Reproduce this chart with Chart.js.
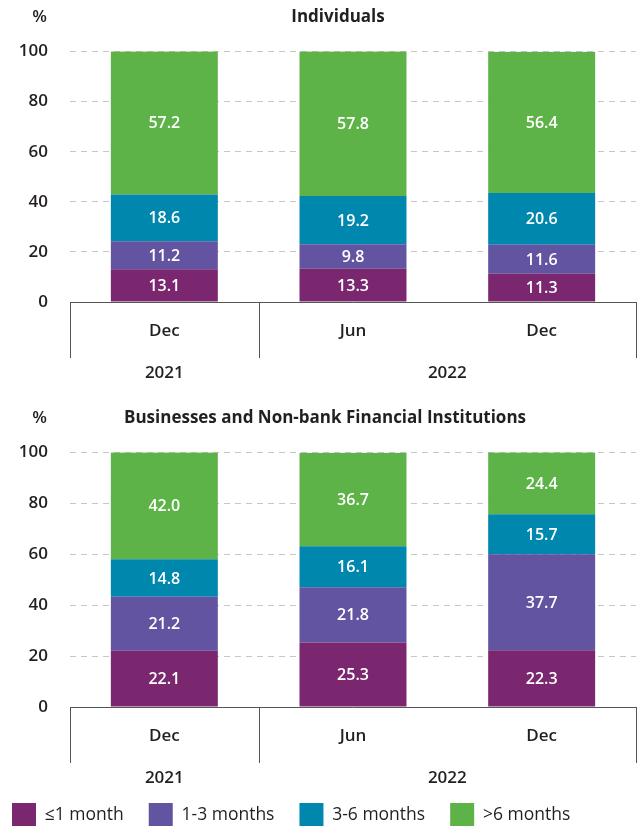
<!DOCTYPE html>
<html>
<head>
<meta charset="utf-8">
<script src="https://cdn.jsdelivr.net/npm/chart.js@4"></script>
<style>
  html, body { margin: 0; padding: 0; background: #fff; overflow: hidden; }
  #wrap { position: relative; width: 644px; height: 826px; overflow: hidden; }
  .box { position: absolute; }
  #top { left: 0; top: 0; width: 644px; height: 392px; }
  #bottom { left: -13px; top: 401px; width: 670px; height: 436px; }
</style>
</head>
<body>
<div id="wrap">
  <div class="box" id="top"><canvas id="chartInd"></canvas></div>
  <div class="box" id="bottom"><canvas id="chartBus"></canvas></div>
</div>
<script>
const months = ["Dec", "Jun", "Dec"];
const years = ["2021", "2022"];
const yearSpans = [[0, 0], [1, 2]];
const seriesNames = ["\u22641 month", "1-3 months", "3-6 months", ">6 months"];
const seriesColors = ["#7a276f", "#6254a0", "#0087ae", "#5db347"];

// Individuals
const indUpTo1 = [13.1, 13.3, 11.3];
const ind1to3 = [11.2, 9.8, 11.6];
const ind3to6 = [18.6, 19.2, 20.6];
const indOver6 = [57.2, 57.8, 56.4];

// Businesses and Non-bank Financial Institutions
const busUpTo1 = [22.1, 25.3, 22.3];
const bus1to3 = [21.2, 21.8, 37.7];
const bus3to6 = [14.8, 16.1, 15.7];
const busOver6 = [42.0, 36.7, 24.4];

const textColor = "#231f20";
const fontFamily = "'Open Sans', Roboto, sans-serif";
Chart.defaults.font.family = fontFamily;
Chart.defaults.color = textColor;

// white value labels inside each segment
const valueLabels = {
    id: "valueLabels",
    afterDatasetsDraw(chart) {
        const ctx = chart.ctx;
        ctx.save();
        ctx.fillStyle = "#fff";
        ctx.font = "600 16px " + fontFamily;
        ctx.textAlign = "center";
        ctx.textBaseline = "middle";
        chart.data.datasets.forEach((ds, i) => {
            chart.getDatasetMeta(i).data.forEach((bar, j) => {
                ctx.fillText(ds.data[j].toFixed(1), bar.x, (bar.y + bar.base) / 2 + 1);
            });
        });
        ctx.restore();
    }
};

// panel title, "%" unit, group separators and year labels
const groupAxis = {
    id: "groupAxis",
    afterDraw(chart, args, opts) {
        const ctx = chart.ctx;
        const x = chart.scales.x;
        const y = chart.scales.y;
        const top = chart.chartArea.bottom;
        ctx.save();
        ctx.fillStyle = textColor;
        ctx.textBaseline = "middle";
        ctx.textAlign = "center";
        ctx.font = "bold 17px " + fontFamily;
        ctx.fillText(opts.title, opts.titleX, chart.chartArea.top - 34);

        ctx.font = "600 17px " + fontFamily;
        ctx.textAlign = "right";
        ctx.fillText("%", y.right - 23, chart.chartArea.top - 34);

        ctx.strokeStyle = "#555";
        ctx.lineWidth = 1;
        const half = (x.getPixelForValue(1) - x.getPixelForValue(0)) / 2;
        const edges = [x.left, x.getPixelForValue(yearSpans[1][0]) - half, x.right];
        edges.forEach(px => {
            const p = Math.round(px) + 0.5;
            ctx.beginPath();
            ctx.moveTo(p, top);
            ctx.lineTo(p, top + 56);
            ctx.stroke();
        });

        ctx.textAlign = "center";
        years.forEach((yr, i) => {
            const cx = (x.getPixelForValue(yearSpans[i][0]) + x.getPixelForValue(yearSpans[i][1])) / 2;
            ctx.fillText(yr, cx, top + 71);
        });
        ctx.restore();
    }
};

function makeChart(id, title, titleX, values, showLegend, leftWidth, rightPad, axisHeight) {
    return new Chart(document.getElementById(id), {
        type: "bar",
        data: {
            labels: months,
            datasets: values.map((v, i) => ({
                label: seriesNames[i],
                data: v,
                backgroundColor: seriesColors[i],
                borderWidth: 0,
                categoryPercentage: 1,
                barPercentage: 0.567
            }))
        },
        options: {
            responsive: true,
            maintainAspectRatio: false,
            animation: false,
            layout: { padding: { left: 0, right: rightPad, top: 51.5, bottom: 0 } },
            scales: {
                x: {
                    stacked: true,
                    grid: { display: false, drawTicks: false },
                    border: { display: true, color: "#555", width: 1 },
                    ticks: { padding: 19, font: { size: 17, weight: "600" }, color: textColor },
                    afterFit: s => { s.height = axisHeight; }
                },
                y: {
                    stacked: true,
                    min: 0,
                    max: 100,
                    ticks: { stepSize: 20, padding: 22, font: { size: 17, weight: "600" }, color: textColor },
                    grid: {
                        drawTicks: false,
                        color: c => c.tick && c.tick.value === 0 ? "rgba(0,0,0,0)" : "#c6c6c6"
                    },
                    border: { display: false, dash: [6, 5] },
                    afterFit: s => { s.width = leftWidth; }
                }
            },
            plugins: {
                title: { display: false },
                groupAxis: { title: title, titleX: titleX },
                legend: {
                    display: showLegend,
                    position: "bottom",
                    align: "start",
                    labels: {
                        boxWidth: 24,
                        boxHeight: 24,
                        padding: 25,
                        color: textColor,
                        font: { size: 17.5 }
                    }
                },
                tooltip: { enabled: false }
            }
        },
        plugins: [valueLabels, groupAxis]
    });
}

makeChart("chartInd", "Individuals", 338, [indUpTo1, ind1to3, ind3to6, indOver6], false, 70, 8, 90);
makeChart("chartBus", "Businesses and Non-bank Financial Institutions", 338,
    [busUpTo1, bus1to3, bus3to6, busOver6], true, 83, 21, 71);
</script>
</body>
</html>
